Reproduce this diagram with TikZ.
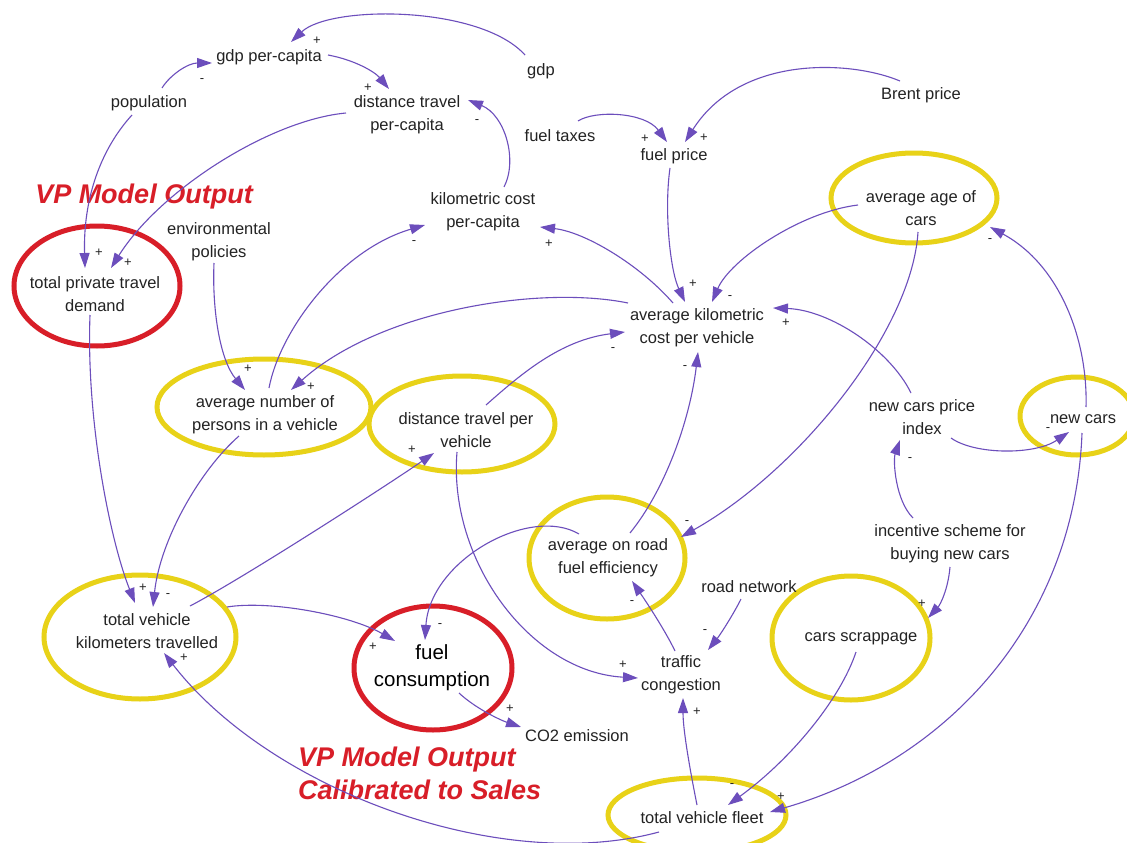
\documentclass[tikz,border=0pt]{standalone}
\usepackage{fontspec}
\setmainfont{Liberation Sans}
\usetikzlibrary{arrows.meta}
\definecolor{cpurple}{RGB}{108,78,188}
\definecolor{cyellow}{RGB}{232,210,24}
\definecolor{cred}{RGB}{216,30,40}
\definecolor{ctext}{RGB}{35,35,35}
\begin{document}
\begin{tikzpicture}[x=1pt,y=-1pt,
  lbl/.style={font=\fontsize{16.5}{23}\selectfont, align=center, text=ctext, inner sep=1pt},
  big/.style={font=\fontsize{20.5}{27}\selectfont, align=center, text=black, inner sep=1pt},
  sgn/.style={font=\fontsize{13}{13}\selectfont, text=ctext, inner sep=0pt},
  link/.style={draw=cpurple, line width=1.1pt, -{Triangle[length=15pt,width=10pt]}},
  yel/.style={draw=cyellow, line width=5pt},
  redc/.style={draw=cred, line width=5pt},
  vp/.style={font=\fontsize{27}{33}\selectfont\bfseries\itshape, text=cred, inner sep=0pt, align=left}
]
\useasboundingbox (0,0) rectangle (1127,843);
\fill[white] (0,0) rectangle (1127,843);

% highlight ellipses
\draw[redc] (97,286) ellipse [x radius=83, y radius=60];
\draw[yel] (914,198) ellipse [x radius=83, y radius=45];
\draw[yel] (264,407) ellipse [x radius=107, y radius=48];
\draw[yel] (462,424) ellipse [x radius=93, y radius=48];
\draw[yel] (1077,416) ellipse [x radius=57, y radius=39];
\draw[yel] (607,558) ellipse [x radius=78, y radius=61];
\draw[yel] (851,638) ellipse [x radius=79, y radius=62];
\draw[yel] (140,637) ellipse [x radius=96, y radius=62];
\draw[redc] (433,668) ellipse [x radius=79, y radius=62];
\draw[yel] (697,815) ellipse [x radius=89, y radius=37];

% variables
\node[lbl] (gdppc) at (269,57) {gdp per-capita};
\node[lbl] (gdp) at (541,71) {gdp};
\node[lbl] (pop) at (149,103) {population};
\node[lbl] (dtpc) at (407,115) {distance travel\\per-capita};
\node[lbl] (ftax) at (560,136) {fuel taxes};
\node[lbl] (fprice) at (674,156) {fuel price};
\node[lbl] (brent) at (921,95) {Brent price};
\node[lbl] (kcpc) at (483,212) {kilometric cost\\per-capita};
\node[lbl] (envpol) at (219,242) {environmental\\policies};
\node[lbl] (tptd) at (95,294) {total private travel\\demand};
\node[lbl] (aac) at (921,208) {average age of\\cars};
\node[lbl] (akcv) at (697,328) {average kilometric\\cost per vehicle};
\node[lbl] (anpv) at (265,415) {average number of\\persons in a vehicle};
\node[lbl] (dtpv) at (466,430) {distance travel per\\vehicle};
\node[lbl] (ncpi) at (922,417) {new cars price\\index};
\node[lbl] (newcars) at (1083,419) {new cars};
\node[lbl] (aorfe) at (608,558) {average on road\\fuel efficiency};
\node[lbl] (isbnc) at (950,544) {incentive scheme for\\buying new cars};
\node[lbl] (roadnet) at (749,587) {road network};
\node[lbl] (cs) at (861,639) {cars scrappage};
\node[lbl] (tvkt) at (147,631) {total vehicle\\kilometers travelled};
\node[big] (fc) at (432,668) {fuel\\consumption};
\node[lbl] (co2) at (577,736) {CO2 emission};
\node[lbl] (tc) at (681,675) {traffic\\congestion};
\node[lbl] (tvf) at (702,818) {total vehicle fleet};

% annotations
\node[vp] (vp1) at (144,197) {VP Model Output};
\node[vp, anchor=west] (vp2) at (298,773) {VP Model Output\\Calibrated to Sales};

% connectors
\draw[link] ([shift={(-16,-16)}]gdp.center) .. controls (480,5) and (330,5) .. ([shift={(22,-15)}]gdppc.center);
\draw[link] ([shift={(13,-15)}]pop.center) .. controls (170,75) and (188,63) .. ([shift={(-57,6)}]gdppc.center);
\draw[link] ([shift={(59,-2)}]gdppc.center) .. controls (355,60) and (375,72) .. ([shift={(-18,-26)}]dtpc.center);
\draw[link] ([shift={(21,-25)}]kcpc.center) .. controls (518,160) and (505,115) .. ([shift={(61,-15)}]dtpc.center);
\draw[link] ([shift={(-17,12)}]pop.center) .. controls (100,150) and (83,200) .. ([shift={(-10,-26)}]tptd.center);
\draw[link] ([shift={(-61,-2)}]dtpc.center) .. controls (270,120) and (160,190) .. ([shift={(16,-26)}]tptd.center);
\draw[link] ([shift={(18,-15)}]ftax.center) .. controls (595,110) and (645,112) .. ([shift={(-7,-14)}]fprice.center);
\draw[link] ([shift={(-21,-14)}]brent.center) .. controls (850,60) and (740,55) .. ([shift={(11,-14)}]fprice.center);
\draw[link] ([shift={(-4,12)}]fprice.center) .. controls (664,210) and (670,270) .. ([shift={(-12,-26)}]akcv.center);
\draw[link] ([shift={(-63,-3)}]aac.center) .. controls (800,212) and (730,260) .. ([shift={(15,-26)}]akcv.center);
\draw[link] ([shift={(-24,-25)}]akcv.center) .. controls (640,265) and (585,232) .. ([shift={(57,15)}]kcpc.center);
\draw[link] ([shift={(4,-27)}]anpv.center) .. controls (280,330) and (340,250) .. ([shift={(-58,13)}]kcpc.center);
\draw[link] ([shift={(-69,-25)}]akcv.center) .. controls (540,285) and (380,310) .. ([shift={(26,-25)}]anpv.center);
\draw[link] ([shift={(-5,21)}]envpol.center) .. controls (212,310) and (220,360) .. ([shift={(-20,-25)}]anpv.center);
\draw[link] ([shift={(20,-25)}]dtpv.center) .. controls (520,375) and (560,340) .. ([shift={(-72,4)}]akcv.center);
\draw[link] ([shift={(22,-25)}]aorfe.center) .. controls (665,490) and (690,420) .. ([shift={(1,24)}]akcv.center);
\draw[link] ([shift={(-3,24)}]aac.center) .. controls (912,330) and (800,470) .. ([shift={(73,-21)}]aorfe.center);
\draw[link] ([shift={(-11,-24)}]ncpi.center) .. controls (890,350) and (830,310) .. ([shift={(76,-20)}]akcv.center);
\draw[link] ([shift={(3,-12)}]newcars.center) .. controls (1088,340) and (1060,265) .. ([shift={(69,19)}]aac.center);
\draw[link] ([shift={(29,21)}]ncpi.center) .. controls (975,455) and (1035,455) .. ([shift={(-14,13)}]newcars.center);
\draw[link] ([shift={(-37,-26)}]isbnc.center) .. controls (895,500) and (893,460) .. ([shift={(-22,23)}]ncpi.center);
\draw[link] ([shift={(0,23)}]isbnc.center) .. controls (948,590) and (940,605) .. ([shift={(67,-21)}]cs.center);
\draw[link] ([shift={(-1,14)}]newcars.center) .. controls (1075,620) and (950,760) .. ([shift={(68,-6)}]tvf.center);
\draw[link] ([shift={(-5,13)}]cs.center) .. controls (840,700) and (790,760) .. ([shift={(26,-13)}]tvf.center);
\draw[link] ([shift={(-5,-13)}]tvf.center) .. controls (690,770) and (683,730) .. ([shift={(2,23)}]tc.center);
\draw[link] ([shift={(-8,12)}]roadnet.center) .. controls (733,615) and (720,635) .. ([shift={(27,-25)}]tc.center);
\draw[link] ([shift={(-6,-24)}]tc.center) .. controls (665,630) and (645,600) .. ([shift={(24,23)}]aorfe.center);
\draw[link] ([shift={(-9,22)}]dtpv.center) .. controls (448,560) and (530,672) .. ([shift={(-43,3)}]tc.center);
\draw[link] ([shift={(-29,-24)}]aorfe.center) .. controls (530,505) and (430,560) .. ([shift={(-7,-28)}]fc.center);
\draw[link] ([shift={(80,-24)}]tvkt.center) .. controls (270,600) and (350,615) .. ([shift={(-37,-27)}]fc.center);
\draw[link] ([shift={(27,25)}]fc.center) .. controls (475,708) and (500,720) .. ([shift={(-56,-9)}]co2.center);
\draw[link] ([shift={(-5,21)}]tptd.center) .. controls (86,420) and (110,540) .. ([shift={(-12,-28)}]tvkt.center);
\draw[link] ([shift={(-26,21)}]anpv.center) .. controls (200,470) and (160,540) .. ([shift={(6,-24)}]tvkt.center);
\draw[link] ([shift={(43,-25)}]tvkt.center) .. controls (240,580) and (380,490) .. ([shift={(-32,23)}]dtpv.center);
\draw[link] ([shift={(-43,14)}]tvf.center) .. controls (500,875) and (270,790) .. ([shift={(17,22)}]tvkt.center);

% polarity signs
\node[sgn] (s1) at (317,41) {+};
\node[sgn] (s2) at (202,81) {-};
\node[sgn] (s3) at (368,88) {+};
\node[sgn] (s4) at (477,122) {-};
\node[sgn] (s5) at (99,253) {+};
\node[sgn] (s6) at (128,263) {+};
\node[sgn] (s7) at (645,139) {+};
\node[sgn] (s8) at (704,138) {+};
\node[sgn] (s9) at (693,284) {+};
\node[sgn] (s10) at (730,298) {-};
\node[sgn] (s11) at (549,244) {+};
\node[sgn] (s12) at (414,243) {-};
\node[sgn] (s13) at (311,387) {+};
\node[sgn] (s14) at (248,369) {+};
\node[sgn] (s15) at (613,350) {-};
\node[sgn] (s16) at (685,368) {-};
\node[sgn] (s17) at (687,523) {-};
\node[sgn] (s18) at (786,323) {+};
\node[sgn] (s19) at (990,241) {-};
\node[sgn] (s20) at (1048,430) {-};
\node[sgn] (s21) at (910,460) {-};
\node[sgn] (s22) at (922,604) {+};
\node[sgn] (s23) at (781,797) {+};
\node[sgn] (s24) at (732,786) {-};
\node[sgn] (s25) at (697,712) {+};
\node[sgn] (s26) at (705,632) {-};
\node[sgn] (s27) at (632,603) {-};
\node[sgn] (s28) at (623,665) {+};
\node[sgn] (s29) at (440,626) {-};
\node[sgn] (s30) at (373,647) {+};
\node[sgn] (s31) at (510,709) {+};
\node[sgn] (s32) at (143,588) {+};
\node[sgn] (s33) at (168,596) {-};
\node[sgn] (s34) at (412,450) {+};
\node[sgn] (s35) at (184,658) {+};
\end{tikzpicture}
\end{document}
